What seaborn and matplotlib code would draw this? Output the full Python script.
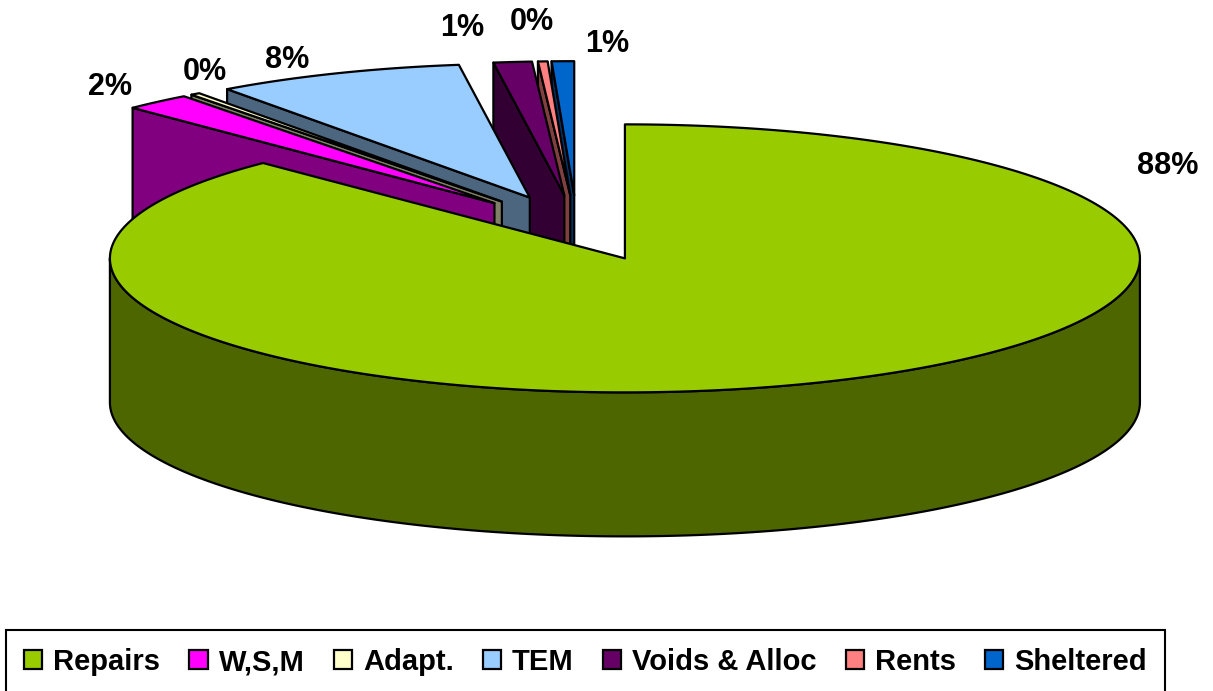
import numpy as np
import matplotlib
matplotlib.use("Agg")
import matplotlib.pyplot as plt
from matplotlib.patches import Polygon, Patch
import seaborn as sns

# ---------------- data ----------------
categories = ["Repairs", "W,S,M", "Adapt.", "TEM", "Voids & Alloc", "Rents", "Sheltered"]
values = [87.6, 2.1, 0.3, 7.8, 1.2, 0.3, 0.7]
pct_labels = ["88%", "2%", "0%", "8%", "1%", "0%", "1%"]

# ---------------- styles ----------------
top_colors = ["#99CC00", "#FF00FF", "#FFFFCC", "#99CCFF", "#660066", "#FF8080", "#0066CC"]
side_colors = ["#4D6600", "#800080", "#808066", "#4D6680", "#330033", "#804040", "#003366"]

sns.set_theme(style="white")
plt.rcParams["font.family"] = ["Liberation Sans", "DejaVu Sans"]
plt.rcParams["text.color"] = "black"

W, H = 1213, 691
fig = plt.figure(figsize=(W / 100, H / 100), dpi=100)
fig.patch.set_facecolor("white")
ax = fig.add_axes([0, 0, 1, 1])
ax.set_xlim(0, W)
ax.set_ylim(H, 0)
ax.axis("off")

# layout of the 3-D pie (pixel space)
CX, CY = 577, 228
RX, RY = 515, 134
DEPTH = 144
EXPLODE = 0.245
LW = 1.6

vals = np.asarray(values, float)
fracs = vals / vals.sum()
ends = 90 - 360 * np.cumsum(fracs)
starts = ends + 360 * fracs


def rim(theta, ox, oy, z=0.0):
    t = np.radians(theta)
    return CX + ox + RX * np.cos(t), CY + oy - RY * np.sin(t) + z


def arc(a, b, ox, oy, z=0.0):
    n = max(2, int(abs(b - a) * 2) + 2)
    th = np.linspace(a, b, n)
    xs, ys = rim(th, ox, oy, z)
    return list(zip(xs, ys))


def poly(pts, fc):
    ax.add_patch(Polygon(pts, closed=True, facecolor=fc, edgecolor="black",
                         linewidth=LW, joinstyle="round"))


mids = (starts + ends) / 2
order = np.argsort(-np.sin(np.radians(mids)))

for i in order:
    s, e, m = starts[i], ends[i], mids[i]
    ox = EXPLODE * RX * np.cos(np.radians(m))
    oy = -EXPLODE * RY * np.sin(np.radians(m))
    apex = (CX + ox, CY + oy)
    apex_b = (CX + ox, CY + oy + DEPTH)
    # radial cut faces
    if np.cos(np.radians(s)) < -1e-6:
        p = rim(s, ox, oy)
        pb = rim(s, ox, oy, DEPTH)
        poly([apex, p, pb, apex_b], side_colors[i])
    if np.cos(np.radians(e)) > 1e-6:
        p = rim(e, ox, oy)
        pb = rim(e, ox, oy, DEPTH)
        poly([apex, p, pb, apex_b], side_colors[i])
    # outer rim wall (front half only)
    for k in range(-2, 2):
        a = max(e, -180 + 360 * k)
        b = min(s, 0 + 360 * k)
        if b - a > 1e-6:
            pts = arc(a, b, ox, oy) + arc(b, a, ox, oy, DEPTH)
            poly(pts, side_colors[i])
    # top face
    poly([apex] + arc(s, e, ox, oy), top_colors[i])

# percentage labels (layout positions in pixels)
label_xy = [(1168, 166), (110, 87), (205, 72), (287, 60), (462, 28), (532, 22), (607, 44)]
for (lx, ly), t in zip(label_xy, pct_labels):
    ax.text(lx, ly, t, ha="center", va="center", fontsize=22, fontweight="bold", color="black")

handles = [Patch(facecolor=c, edgecolor="black", linewidth=LW) for c in top_colors]
leg = fig.legend(handles, categories, loc="upper left",
                 bbox_to_anchor=(6 / W, 1 - 630 / H), borderaxespad=0,
                 ncol=7, frameon=True, fancybox=False, framealpha=1, edgecolor="black",
                 borderpad=0.62, handlelength=0.62, handleheight=0.62, handletextpad=0.38,
                 columnspacing=1.0, labelcolor="black", prop=dict(weight="bold", size=21))
leg.get_frame().set_linewidth(1.5)

fig.savefig("out.png", dpi=100, facecolor="white")
